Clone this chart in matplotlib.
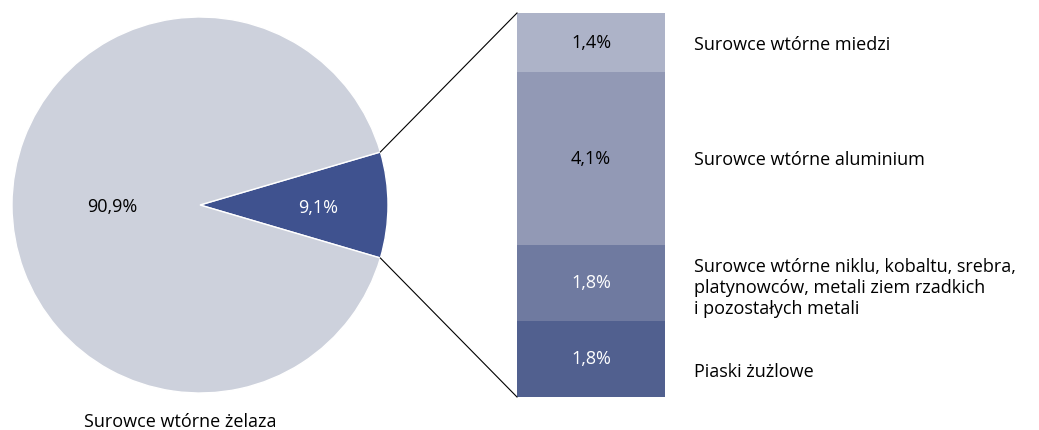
import numpy as np
import matplotlib
matplotlib.use("Agg")
import matplotlib.pyplot as plt

plt.rcParams['font.family'] = ['Open Sans', 'DejaVu Sans']

# dane
pie_labels = ["Pozostałe", "Surowce wtórne żelaza"]
pie_values = [9.1, 90.9]
pie_colors = ["#3f528f", "#cdd1dc"]

bar_labels = ["Piaski żużlowe",
              "Surowce wtórne niklu, kobaltu, srebra,\nplatynowców, metali ziem rzadkich\ni pozostałych metali",
              "Surowce wtórne aluminium",
              "Surowce wtórne miedzi"]
bar_values = [1.8, 1.8, 4.1, 1.4]
bar_colors = ["#51608f", "#6f7aa0", "#9299b5", "#adb3c8"]
bar_text_colors = ["white", "white", "black", "black"]

W, H = 1039, 430
fig = plt.figure(figsize=(W / 100, H / 100), dpi=100)
ax = fig.add_axes([0, 0, 1, 1])

# kolo
cx, cy, r = 200, 225, 188
half = pie_values[0] / 100 * 360 / 2
ax.pie(pie_values, colors=pie_colors, startangle=-half, center=(cx, cy), radius=r,
       wedgeprops=dict(edgecolor='white', linewidth=1), frame=True)
ax.set_xlim(0, W)
ax.set_ylim(0, H)
ax.set_aspect('equal')
ax.axis('off')

fs = 13
ax.text(cx - 88, cy - 2, "90,9%", ha='center', va='center', fontsize=fs, color='black')
ax.text(cx + 118, cy - 3, "9,1%", ha='center', va='center', fontsize=fs, color='white')
ax.text(cx - 20, 8, pie_labels[1], ha='center', va='center', fontsize=fs, color='black')

# slupek
bx, bw = 591, 148
b_bottom, b_top = 33, 417
scale = (b_top - b_bottom) / sum(bar_values)
bottoms = b_bottom + np.concatenate([[0], np.cumsum(bar_values)[:-1]]) * scale
ax.bar(bx, np.array(bar_values) * scale, bottom=bottoms, width=bw, color=bar_colors, linewidth=0)

label_y = [58, 142, 270, 385]
for v, b, tc, lab, ly in zip(bar_values, bottoms, bar_text_colors, bar_labels, label_y):
    mid = b + v * scale / 2
    ax.text(bx, mid, f"{v:.1f}%".replace('.', ','), ha='center', va='center', fontsize=fs, color=tc)
    ax.text(694, ly, lab, ha='left', va='center', fontsize=fs, color='black', linespacing=1.25)

# linie laczace
a = np.deg2rad(half)
ax.plot([cx + r * np.cos(a), bx - bw / 2], [cy + r * np.sin(a), b_top], color='black', lw=0.8)
ax.plot([cx + r * np.cos(-a), bx - bw / 2], [cy + r * np.sin(-a), b_bottom], color='black', lw=0.8)

fig.savefig("out.png", dpi=100)
